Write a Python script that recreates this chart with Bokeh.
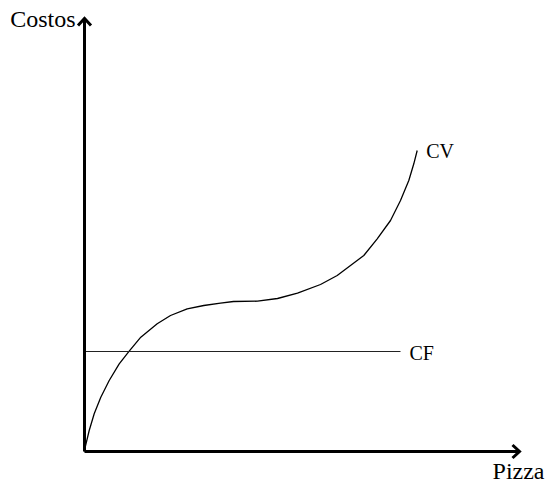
from bokeh.plotting import figure
from bokeh.models import Range1d
from bokeh.core.properties import value
from bokeh.embed import file_html
from bokeh.resources import INLINE

# ---- data ----
cv_x = [0, 0.7, 4.7, 9.7, 16.3, 24.7, 34.7, 44.7, 56.3, 72.7, 86, 102.7, 119.3, 136,
        149, 173, 193, 213, 236, 252.7, 279.3, 292.7, 306, 316, 324.3, 329.3, 332.7]
cv_y = [0, 4.3, 21, 37.7, 54.3, 71, 87.7, 100.3, 114.3, 127.7, 136, 142.7, 146, 148.3,
        150, 150.3, 153, 158.3, 167, 176, 196, 212.7, 231, 251, 271, 287.7, 301]
cf_x = [0, 316]
cf_y = [100, 100]
x_axis_max = 435
y_axis_max = 433
labels = {"x": "Pizza", "y": "Costos", "cv": "CV", "cf": "CF"}

FONT = value("Liberation Serif")

p = figure(width=553, height=487, output_backend="svg", toolbar_location=None,
           x_range=Range1d(-84, 469), y_range=Range1d(-36, 451),
           min_border=0, outline_line_color=None, background_fill_color="white")
p.xaxis.visible = False
p.yaxis.visible = False
p.grid.visible = False

# curves
p.line(cv_x, cv_y, line_color="black", line_width=1.3, line_join="round")
p.line(cf_x, cf_y, line_color="#222222", line_width=1)

# axes with open arrow heads
p.line([0, 0], [0, y_axis_max], line_color="black", line_width=3)
p.line([0, x_axis_max], [0, 0], line_color="black", line_width=3)
hw, hd = 6.5, 7
p.multi_line([[-hw, 0, hw], [x_axis_max - hd, x_axis_max, x_axis_max - hd]],
             [[y_axis_max - hd, y_axis_max, y_axis_max - hd], [hw, 0, -hw]],
             line_color="black", line_width=3, line_join="miter")

# labels
p.text(x=[cv_x[-1]], y=[cv_y[-1]], text=[labels["cv"]], x_offset=9, y_offset=0,
       text_font=FONT, text_font_size="20px", text_color="black",
       text_align="left", text_baseline="alphabetic")
p.text(x=[cf_x[-1]], y=[cf_y[-1]], text=[labels["cf"]], x_offset=9, y_offset=1,
       text_font=FONT, text_font_size="20px", text_color="black",
       text_align="left", text_baseline="alphabetic")
p.text(x=[0], y=[y_axis_max], text=[labels["y"]], x_offset=-9, y_offset=0,
       text_font=FONT, text_font_size="24px", text_color="black",
       text_align="right", text_baseline="alphabetic")
p.text(x=[x_axis_max], y=[0], text=[labels["x"]], x_offset=25, y_offset=19,
       text_font=FONT, text_font_size="24px", text_color="black",
       text_align="right", text_baseline="alphabetic")

open("out.html", "w").write(file_html(p, INLINE))
